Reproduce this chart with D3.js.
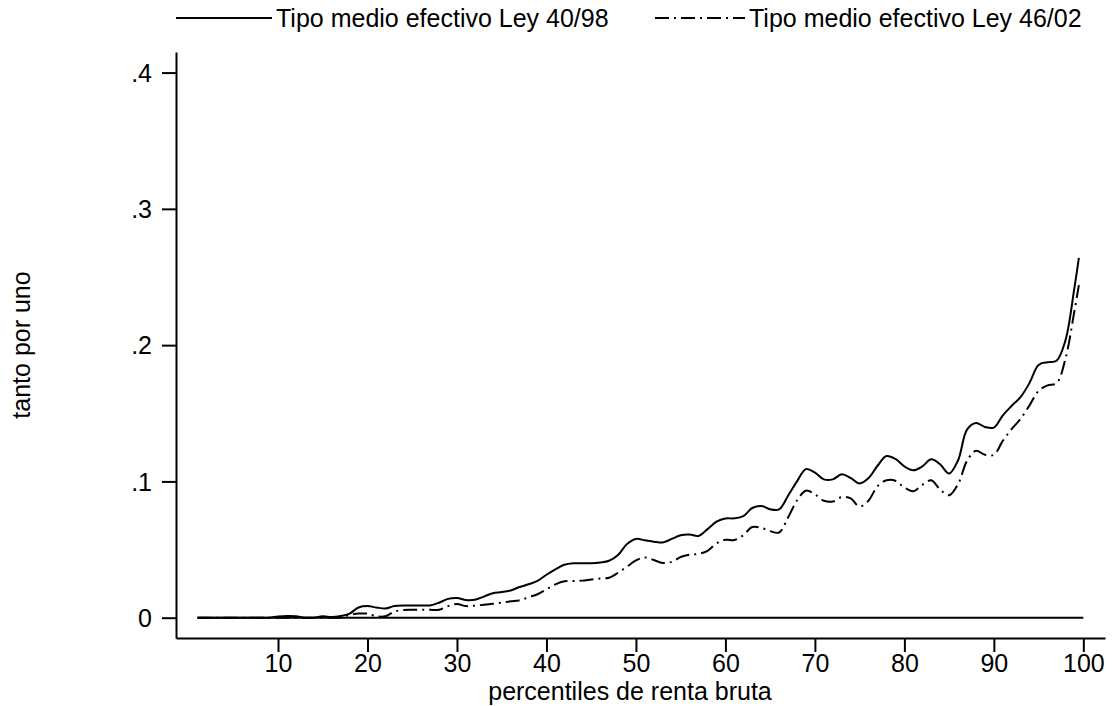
<!DOCTYPE html>
<html>
<head>
<meta charset="utf-8">
<script src="https://cdn.jsdelivr.net/npm/d3@7"></script>
<style>
  body { margin: 0; background: #fff; }
  svg text { font-family: "Liberation Sans", Arial, sans-serif; fill: #000; }
</style>
</head>
<body>
<svg id="svg"></svg>
<script>
// Global sizes
const width = 1112;
const height = 706;
let svg = d3.select("#svg").attr("width", width).attr("height", height);

// Data: percentiles 1..99 and the last point at 99.5
const percentiles = d3.range(1, 100).concat([99.5]);

// Tipo medio efectivo Ley 40/98 (solid)
const ley4098 = [
  0, 0, 0, 0, 0, 0, 0, 0, 0, 0.0008,
  0.0012, 0.001, 0, 0, 0.001, 0.0005, 0.0012, 0.003, 0.0075, 0.0085,
  0.0075, 0.0068, 0.0085, 0.009, 0.009, 0.009, 0.009, 0.011, 0.0138, 0.0145,
  0.013, 0.0132, 0.0155, 0.018, 0.0188, 0.02, 0.0225, 0.0245, 0.027, 0.0315,
  0.0355, 0.0388, 0.0399, 0.0399, 0.0399, 0.0405, 0.0418, 0.046, 0.054, 0.0578,
  0.0568, 0.0558, 0.0552, 0.0578, 0.0605, 0.061, 0.06, 0.065, 0.0705, 0.0728,
  0.0729, 0.0745, 0.0805, 0.082, 0.0795, 0.0795, 0.0895, 0.1, 0.109, 0.1065,
  0.1015, 0.1015, 0.1052, 0.1025, 0.0985, 0.1025, 0.1115, 0.1186, 0.1165, 0.111,
  0.1082, 0.111, 0.1162, 0.1125, 0.1058, 0.1155, 0.138, 0.1428, 0.14, 0.1395,
  0.1485, 0.1555, 0.162, 0.1725, 0.1855, 0.1875, 0.1885, 0.2035, 0.242, 0.264
];

// Tipo medio efectivo Ley 46/02 (dash-dot)
const ley4602 = [
  0, 0, 0, 0, 0, 0, 0, 0, 0, 0,
  0, 0, 0, 0, 0, 0, 0, 0.002, 0.003, 0.003,
  0.001, 0.001, 0.0045, 0.0056, 0.0058, 0.0058, 0.0058, 0.0058, 0.0085, 0.01,
  0.0085, 0.0088, 0.0095, 0.0102, 0.011, 0.012, 0.0128, 0.015, 0.0172, 0.0208,
  0.0245, 0.0268, 0.0269, 0.0272, 0.028, 0.0287, 0.0293, 0.033, 0.0375, 0.042,
  0.0442, 0.0423, 0.0402, 0.041, 0.0445, 0.0462, 0.0468, 0.049, 0.0545, 0.0572,
  0.057, 0.0605, 0.0665, 0.066, 0.0635, 0.0625, 0.0735, 0.086, 0.0932, 0.0905,
  0.0858, 0.0852, 0.0885, 0.0875, 0.0815, 0.086, 0.0965, 0.1008, 0.1005, 0.0955,
  0.0928, 0.0975, 0.1008, 0.094, 0.0898, 0.098, 0.115, 0.1225, 0.1195, 0.1195,
  0.1298, 0.1385, 0.146, 0.156, 0.1665, 0.1705, 0.172, 0.19, 0.225, 0.244
];

// Reference line at zero, from the first to the last percentile
const zeroLineX = [1, 100];
const zeroLineY = [0, 0];

const xTicks = [10, 20, 30, 40, 50, 60, 70, 80, 90, 100];
const yTicks = [0, 0.1, 0.2, 0.3, 0.4];

const legendLabels = ["Tipo medio efectivo Ley 40/98", "Tipo medio efectivo Ley 46/02"];

// Plot region
const margin = { top: 52, right: 7, bottom: 68, left: 176 };
const plotRight = width - margin.right;
const plotBottom = height - margin.bottom;

let x = d3.scaleLinear()
    .domain([-1.4, 102.42])
    .range([margin.left, plotRight]);

let y = d3.scaleLinear()
    .domain([-0.0149, 0.4151])
    .range([plotBottom, margin.top]);

const fontSize = 25;

// Axes
let xAxis = svg.append("g")
    .attr("transform", "translate(0," + plotBottom + ")")
    .call(d3.axisBottom(x).tickValues(xTicks).tickSize(14).tickSizeOuter(0).tickPadding(2));

let yAxis = svg.append("g")
    .attr("transform", "translate(" + margin.left + ",0)")
    .call(d3.axisLeft(y).tickValues(yTicks).tickSize(14).tickSizeOuter(0).tickPadding(10)
        .tickFormat(d => d === 0 ? "0" : d3.format(".1f")(d).replace(/^0/, "")));

svg.selectAll(".domain, .tick line").attr("stroke", "#000").attr("stroke-width", 2);
svg.selectAll(".tick text")
    .attr("font-family", "Liberation Sans, Arial, sans-serif")
    .style("font-size", fontSize + "px")
    .attr("fill", "#000");
yAxis.selectAll(".tick text").attr("dy", "0.35em");

// Lines
let line = d3.line()
    .x(d => x(d[0]))
    .y(d => y(d[1]))
    .curve(d3.curveCatmullRom);

svg.append("path")
    .datum(d3.zip(zeroLineX, zeroLineY))
    .attr("fill", "none")
    .attr("stroke", "#000")
    .attr("stroke-width", 2)
    .attr("d", d3.line().x(d => x(d[0])).y(d => y(d[1])));

svg.append("path")
    .datum(d3.zip(percentiles, ley4602))
    .attr("fill", "none")
    .attr("stroke", "#000")
    .attr("stroke-width", 2)
    .attr("stroke-dasharray", "14,5,2,5")
    .attr("d", line);

svg.append("path")
    .datum(d3.zip(percentiles, ley4098))
    .attr("fill", "none")
    .attr("stroke", "#000")
    .attr("stroke-width", 2)
    .attr("d", line);

// Axis titles
svg.append("text")
    .attr("x", 630)
    .attr("y", 700)
    .attr("text-anchor", "middle")
    .style("font-size", fontSize + "px")
    .text("percentiles de renta bruta");

svg.append("text")
    .attr("transform", "translate(30," + ((margin.top + plotBottom) / 2) + ") rotate(-90)")
    .attr("text-anchor", "middle")
    .style("font-size", fontSize + "px")
    .text("tanto por uno");

// Legend
const legendY = 18;
const keyX = [176, 655];
const keyLen = [96, 90];
const dashes = [null, "14,5,2,5"];

legendLabels.forEach((label, i) => {
    svg.append("line")
        .attr("x1", keyX[i])
        .attr("x2", keyX[i] + keyLen[i])
        .attr("y1", legendY)
        .attr("y2", legendY)
        .attr("stroke", "#000")
        .attr("stroke-width", 2)
        .attr("stroke-dasharray", dashes[i]);
    svg.append("text")
        .attr("x", keyX[i] + keyLen[i] + 4)
        .attr("y", legendY)
        .attr("dy", "0.35em")
        .style("font-size", fontSize + "px")
        .text(label);
});
</script>
</body>
</html>
